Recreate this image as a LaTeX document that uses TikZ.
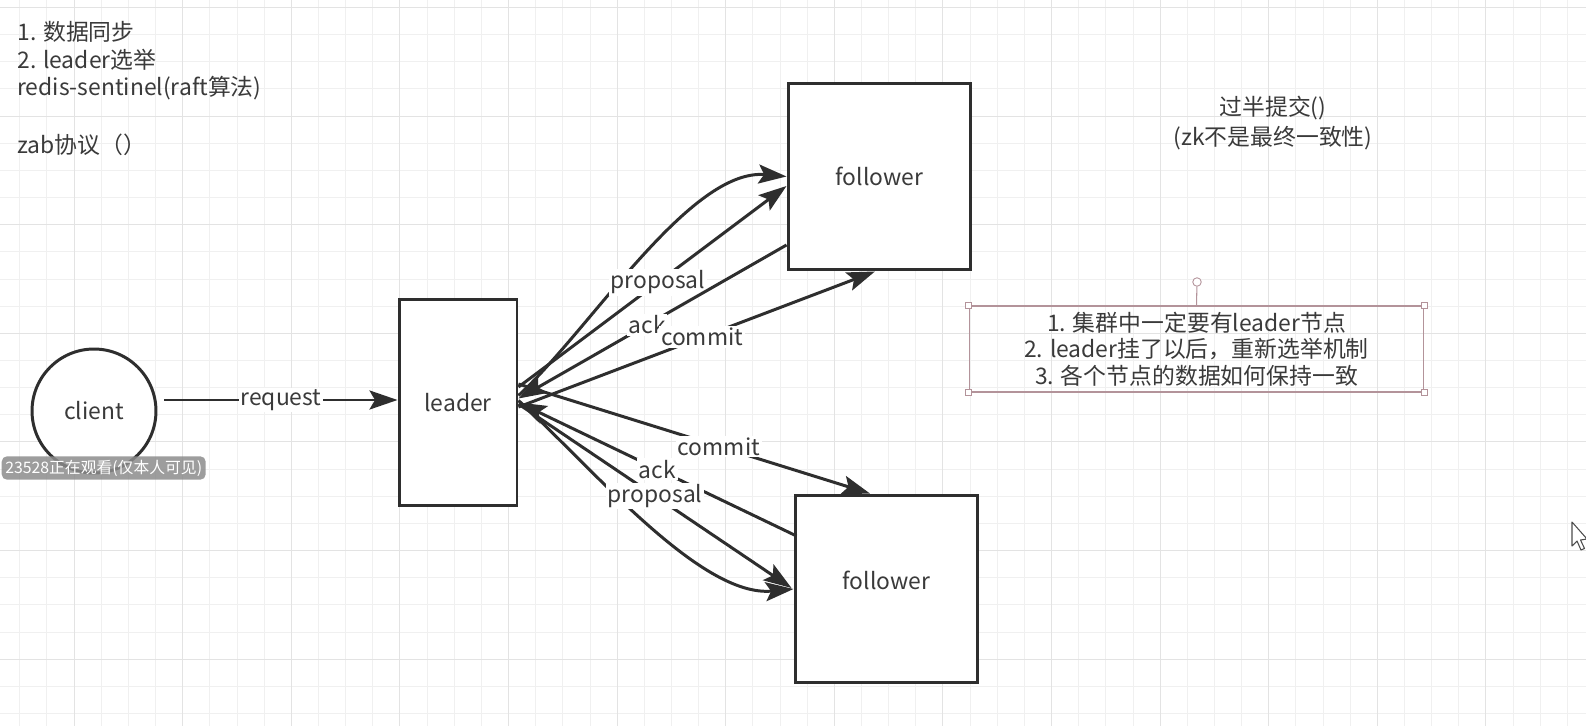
\documentclass[tikz,border=0pt]{standalone}
\usepackage{fontspec}
\setmainfont{Noto Sans CJK SC}
\usetikzlibrary{arrows.meta}
\definecolor{ink}{HTML}{2E2E2E}
\definecolor{txt}{HTML}{3A3A3A}
\definecolor{rose}{HTML}{B3939A}

\begin{document}
\begin{tikzpicture}[x=0.02cm,y=-0.02cm,
  box/.style={draw=ink,line width=1.7pt,fill=white,text=txt,font=\fontsize{13}{16}\selectfont},
  arr/.style={draw=ink,line width=1.7pt,-{Stealth[length=0.56cm,width=0.38cm,inset=0.11cm]}},
  lbl/.style={fill=white,text=txt,inner sep=1pt,font=\fontsize{13}{16}\selectfont},
  note/.style={text=txt,inner sep=0pt,font=\fontsize{13}{16}\selectfont},
  handle/.style={draw=rose,fill=white,line width=0.5pt,minimum size=0.11cm,inner sep=0pt}]

% fond et grille
\fill[white] (0,0) rectangle (1586,726);
\useasboundingbox (0,0) rectangle (1586,726);
\foreach \k in {-2,...,55} \draw[black!6] (74+27.15*\k,0) -- (74+27.15*\k,726);
\foreach \k in {-24,...,2} \draw[black!6] (0,659+27.15*\k) -- (1586,659+27.15*\k);
\foreach \k in {0,4,...,52} \draw[black!11] (74+27.15*\k,0) -- (74+27.15*\k,726);
\foreach \k in {-24,-20,...,0} \draw[black!11] (0,659+27.15*\k) -- (1586,659+27.15*\k);

% notes en haut
\node[note,anchor=west] (n1) at (17,32) {1. 数据同步};
\node[note,anchor=west] (n2) at (17,60) {2. leader选举};
\node[note,anchor=west] (n3) at (17,88) {redis-sentinel(raft算法)};
\node[note,anchor=west] (n4) at (17,145) {zab协议（）};
\node[note] (h1) at (1273,108) {过半提交()};
\node[note] (h2) at (1273,138) {(zk不是最终一致性)};

% noeuds
\node[box,circle,minimum size=2.48cm] (client) at (94,411) {\raisebox{-1pt}{client}};
\node[box,minimum width=2.36cm,minimum height=4.14cm] (leader) at (458,402.5) {leader};
\node[box,minimum width=3.66cm,minimum height=3.74cm] (ftop) at (879.5,176.5) {follower};
\node[box,minimum width=3.66cm,minimum height=3.76cm] (fbot) at (886.5,589) {\raisebox{10pt}{follower}};

% client -> leader
\draw[arr] ([shift={(7,-11)}]client.east) -- node[lbl]{request} ([shift={(0,-2.5)}]leader.west);

% leader <-> follower du haut
\draw[arr] ([shift={(0,-7)}]leader.east) .. controls (590,330) and (690,168) .. (ftop.west);
\draw[arr] ([shift={(0,-15.5)}]leader.east) -- node[lbl,pos=0.52]{proposal} ([shift={(0,9.5)}]ftop.west);
\draw[arr] ([shift={(0,68.5)}]ftop.west) -- node[lbl,pos=0.52]{ack} ([shift={(0,-4)}]leader.east);
\draw[arr] ([shift={(0,4.5)}]leader.east) -- node[lbl,pos=0.515]{commit} ([shift={(-4.5,0)}]ftop.south);

% leader <-> follower du bas
\draw[arr] ([shift={(0,-18.5)}]leader.east) -- node[lbl,pos=0.57]{commit} ([shift={(-16.5,0)}]fbot.north);
\draw[arr] ([shift={(3,-53)}]fbot.west) -- node[lbl,pos=0.5]{ack} (leader.east);
\draw[arr] ([shift={(0,-2)}]leader.east) .. controls (590,465) and (700,598) .. (fbot.west);
\draw[arr] ([shift={(0,1.5)}]leader.east) -- node[lbl,pos=0.5]{proposal} ([shift={(-2,-1)}]fbot.west);

% boite de texte selectionnee
\node[draw=rose,line width=0.6pt,minimum width=9.1cm,minimum height=1.72cm,align=center,note,
  font=\fontsize{13}{15}\selectfont] (tbox) at (1196.5,349)
  {1. 集群中一定要有leader节点\\2. leader挂了以后，重新选举机制\\3. 各个节点的数据如何保持一致};
\node[handle,circle,minimum size=0.17cm] (rot) at (1197,282) {};
\draw[rose,line width=0.6pt] (rot) -- (tbox.north);
\foreach \c/\n in {north west/a,north east/b,south west/c,south east/d}
  \node[handle] (hd\n) at (tbox.\c) {};

% bandeau video et curseur
\node[fill=black!45,fill opacity=0.85,text opacity=1,text=white,rounded corners=3pt,
  inner sep=2pt,anchor=east,font=\fontsize{9}{10}\selectfont] (wm) at (206,468) {23528正在观看(仅本人可见)};
\draw[black!70,fill=white,line width=0.6pt,line join=round] (1572,522) -- (1572,546) -- (1577,541)
  -- (1581,550) -- (1584.5,548.5) -- (1580.5,540) -- (1587,539) -- cycle;
\end{tikzpicture}
\end{document}
